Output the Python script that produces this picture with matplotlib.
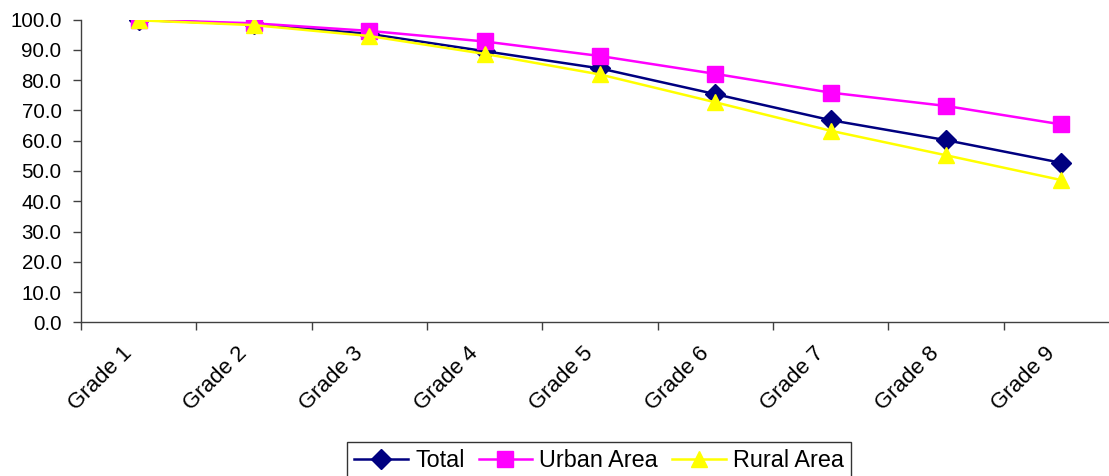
import matplotlib
matplotlib.use("Agg")
import matplotlib.pyplot as plt
from matplotlib.transforms import ScaledTranslation

plt.rcParams['font.family'] = ['Liberation Sans', 'DejaVu Sans']

grades = ["Grade 1", "Grade 2", "Grade 3", "Grade 4", "Grade 5",
          "Grade 6", "Grade 7", "Grade 8", "Grade 9"]
total = [99.9, 98.5, 95.3, 89.6, 83.9, 75.4, 66.8, 60.2, 52.7]
urban = [100.0, 98.8, 96.3, 92.8, 88.0, 82.1, 75.9, 71.5, 65.4]
rural = [99.8, 98.2, 94.6, 88.7, 81.9, 72.7, 63.3, 55.2, 47.0]

fig = plt.figure(figsize=(11.09, 4.76), dpi=100)
ax = fig.add_axes([81 / 1109, 1 - 322.3 / 476, 1038 / 1109, 302.6 / 476])

x = list(range(len(grades)))
ax.plot(x, total, color='#000080', lw=1.8, marker='D', ms=10, label="Total")
ax.plot(x, urban, color='#FF00FF', lw=1.8, marker='s', ms=11, label="Urban Area")
ax.plot(x, rural, color='#FFFF00', lw=1.8, marker='^', ms=12, label="Rural Area")

ax.set_xlim(-0.5, len(grades) - 0.5)
ax.set_ylim(0, 100)
ax.set_yticks(range(0, 101, 10))
ax.set_yticklabels([f"{v:.1f}" for v in range(0, 101, 10)])
ax.set_xticks(x)
ax.set_xticklabels(grades, rotation=45, ha='right', va='top', rotation_mode='anchor')
ax.set_xticks([i + 0.5 for i in range(-1, len(grades))], minor=True)
ax.tick_params(axis='x', which='major', length=0, pad=15, labelsize=16)
ax.tick_params(axis='x', which='minor', length=6, width=1, color='#404040')
ax.tick_params(axis='y', length=6, width=1, color='#404040', pad=8, labelsize=14.8)

# nudge the slanted category labels left of their category centre
shift = ScaledTranslation(-0.17, 0.0, fig.dpi_scale_trans)
for lbl in ax.get_xticklabels():
    lbl.set_transform(lbl.get_transform() + shift)

for side in ('top', 'right'):
    ax.spines[side].set_visible(False)
for side in ('left', 'bottom'):
    ax.spines[side].set_color('#404040')
    ax.spines[side].set_linewidth(1)

leg = fig.legend(loc='upper center', bbox_to_anchor=(599 / 1109, 1 - 441.7 / 476),
                 ncol=3, frameon=True, fancybox=False, edgecolor='black',
                 fontsize=16.8, handlelength=2.3, handletextpad=0.3,
                 columnspacing=0.6, borderpad=0.3, borderaxespad=0)
leg.get_frame().set_linewidth(1)

fig.savefig("out.png", dpi=100)
